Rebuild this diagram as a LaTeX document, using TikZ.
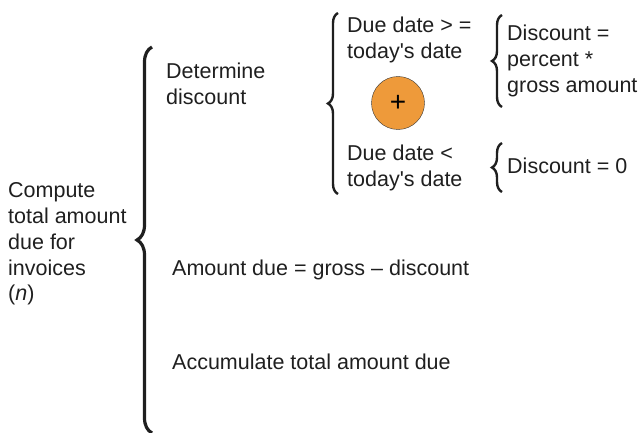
\documentclass[tikz,border=0pt]{standalone}
\usepackage{fontspec}
\setmainfont{Liberation Sans}
\usetikzlibrary{decorations.pathreplacing}
\definecolor{plusorange}{RGB}{238,154,58}

\begin{document}
\begin{tikzpicture}[x=1pt, y=-1pt]
\tikzstyle{txt}=[draw=none, fill=none, inner sep=0pt, anchor=west, align=left,
  text=black!88, font=\fontsize{21.5}{25.8}\selectfont]
\tikzstyle{brc}=[decorate, decoration={brace, amplitude=10pt}, line width=2.4pt, black!88]
\useasboundingbox (0,0) rectangle (639,433);

% labels
\node[txt] (task) at (8,244) {Compute\\total amount\\due for\\invoices\\(\textit{n})};
\node[txt] (det) at (166,84) {Determine\\discount};
\node[txt] (ge) at (347,40) {Due date > =\\today\textquotesingle s date};
\node[txt] (lt) at (347,168) {Due date <\\today\textquotesingle s date};
\node[txt] (dpct) at (507,61) {Discount =\\percent *\\gross amount};
\node[txt] (dzero) at (507,166) {Discount = 0};
\node[txt] (amt) at (172,270) {Amount due = gross -- discount};
\node[txt] (acc) at (172,362) {Accumulate total amount due};
\node[circle, draw=black!80, thin, fill=plusorange, minimum size=53pt, inner sep=0pt,
  font=\fontsize{28}{28}\selectfont] (sel) at (398,103) {+};

% braces
\coordinate (b1s) at (152,433);
\coordinate (b1e) at (152,47);
\coordinate (b2s) at (338,194);
\coordinate (b2e) at (338,13);
\coordinate (b3s) at (502,107);
\coordinate (b3e) at (502,15);
\coordinate (b4s) at (502,192);
\coordinate (b4e) at (502,143);
\draw[brc, decoration={amplitude=15pt}, line width=3.2pt] (b1s) -- (b1e);
\draw[brc] (b2s) -- (b2e);
\draw[brc] (b3s) -- (b3e);
\draw[brc] (b4s) -- (b4e);
\end{tikzpicture}
\end{document}
